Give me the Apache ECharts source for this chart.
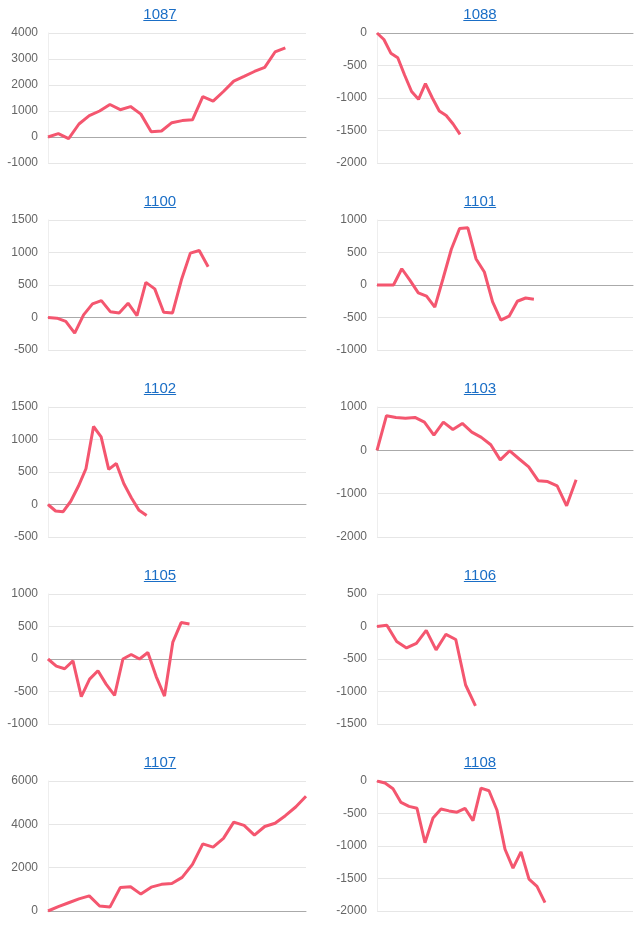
<!DOCTYPE html>
<html><head><meta charset="utf-8">
<script src="https://cdn.jsdelivr.net/npm/echarts@6/dist/echarts.min.js"></script>
<style>
body{margin:0;background:#fff;font-family:Arial,"Liberation Sans",sans-serif;}
.cell{position:absolute;width:320px;height:187px;}
.t{position:absolute;top:5px;left:0;width:100%;text-align:center;font-size:15px;color:#1a6ec6;text-decoration:underline;}
.c{position:absolute;left:0;top:0;width:320px;height:187px;}
</style></head><body>
<script>
const titles=["1087","1088","1100","1101","1102","1103","1105","1106","1107","1108"];
const slots=[26,38,30,32,35,28,32,27,26,33];
const yMin=[-1000,-2000,-500,-1000,-500,-2000,-1000,-1500,0,-2000];
const yMax=[4000,0,1500,1000,1500,1000,1000,500,6000,0];
const yStep=[1000,500,500,500,500,1000,500,500,2000,500];
const s1087=[0,130,-60,500,820,1000,1250,1050,1170,880,200,230,550,630,660,1550,1380,1750,2150,2330,2520,2680,3270,3430];
const s1088=[0,-100,-310,-380,-650,-900,-1020,-780,-1000,-1200,-1270,-1400,-1560];
const s1100=[0,-10,-60,-240,40,210,260,90,70,220,30,540,440,80,70,580,990,1030,780];
const s1101=[0,0,0,250,70,-120,-170,-340,100,550,870,880,400,200,-260,-540,-480,-250,-200,-220];
const s1102=[0,-100,-110,50,280,550,1200,1040,540,630,320,100,-90,-170];
const s1103=[0,800,760,740,760,650,350,650,480,620,420,300,130,-220,-10,-200,-380,-700,-720,-820,-1280,-680];
const s1105=[0,-110,-150,-30,-580,-310,-180,-390,-560,0,70,0,100,-270,-570,260,560,540];
const s1106=[0,20,-230,-330,-260,-60,-360,-120,-200,-900,-1220];
const s1107=[0,200,380,560,700,230,180,1080,1120,780,1100,1230,1270,1550,2150,3100,2950,3350,4100,3950,3500,3900,4050,4400,4800,5300];
const s1108=[0,-30,-120,-330,-390,-420,-950,-570,-430,-460,-480,-420,-610,-110,-150,-450,-1050,-1340,-1090,-1510,-1620,-1870];
const series=[s1087,s1088,s1100,s1101,s1102,s1103,s1105,s1106,s1107,s1108];
titles.forEach((t,i)=>{
  const cell=document.createElement('div');cell.className='cell';
  const col=i%2,row=Math.floor(i/2);
  cell.style.left=(col*320)+'px';cell.style.top=(row*187)+'px';
  const c=document.createElement('div');c.className='c';cell.appendChild(c);
  const tt=document.createElement('div');tt.className='t';tt.textContent=t;cell.appendChild(tt);
  document.body.appendChild(cell);
  const ch=echarts.init(c,null,{renderer:'canvas'});
  const cats=[];for(let k=0;k<slots[i];k++)cats.push(String(k+1));
  ch.setOption({
    animation:false,
    grid:{left:col?57:48,right:col?7:14,top:33,bottom:24},
    xAxis:{type:'category',data:cats,boundaryGap:false,
      axisLine:{onZero:true,lineStyle:{color:'#aaa'}},axisTick:{show:false},axisLabel:{show:false}},
    yAxis:{type:'value',min:yMin[i],max:yMax[i],interval:yStep[i],
      axisLine:{show:true,lineStyle:{color:'#eee'}},axisTick:{show:false},
      axisLabel:{color:'#666',fontSize:12,fontFamily:'Arial',margin:10,formatter:v=>String(v)},
      splitLine:{lineStyle:{color:'#e6e6e6'}}},
    series:[{type:'line',data:series[i],showSymbol:false,
      lineStyle:{color:'#f4566f',width:3},itemStyle:{color:'#f4566f'}}]
  });
});
</script>
</body></html>
